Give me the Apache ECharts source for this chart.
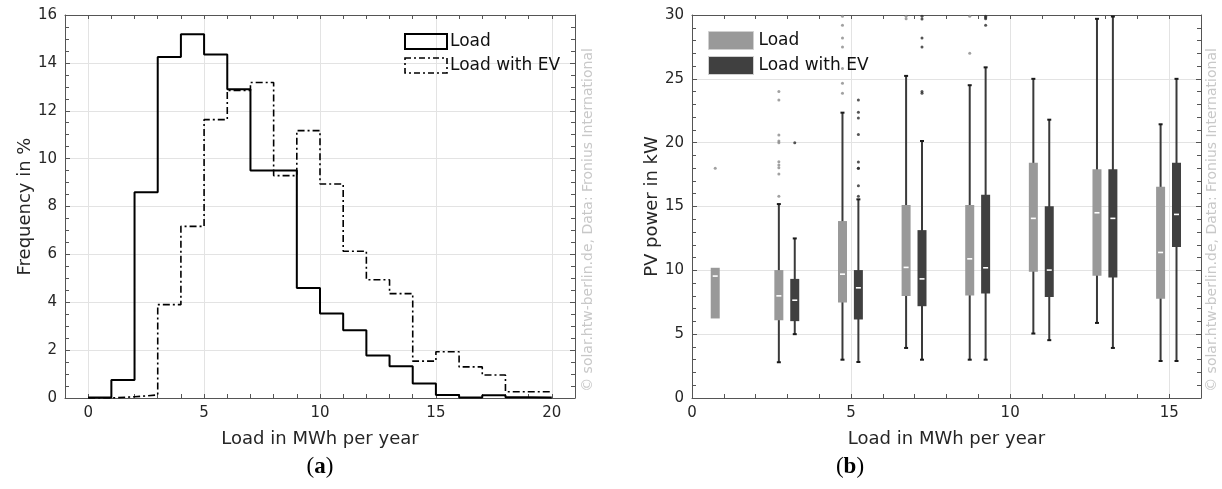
<!DOCTYPE html>
<html><head><meta charset="utf-8">
<script src="https://cdn.jsdelivr.net/npm/echarts@6/dist/echarts.min.js"></script>
<style>html,body{margin:0;padding:0;background:#fff}#c{width:1222px;height:489px}</style>
</head><body><div id="c"></div>
<script>
// ---------- (a) histogram data ----------
const binEdges = [0,1,2,3,4,5,6,7,8,9,10,11,12,13,14,15,16,17,18,19,20];
const loadFreq   = [0.02,0.75,8.6,14.25,15.2,14.35,12.9,9.5,9.5,4.6,3.53,2.83,1.78,1.33,0.61,0.13,0.02,0.12,0.03,0.02];
const loadEvFreq = [0,0.05,0.13,3.9,7.17,11.63,12.85,13.18,9.29,11.17,8.94,6.13,4.94,4.36,1.54,1.93,1.3,0.96,0.26,0.26];
const xTickLabelsA = [0,5,10,15,20];
// ---------- (b) boxplot data ----------
const groupCenters = [1,3,5,7,9,11,13,15];
// [low whisker, q1, median, q3, high whisker]
const loadBox = [[6.23,6.23,9.55,10.2,10.2],[2.8,6.09,8.0,10.02,15.19],[3.0,7.48,9.7,13.86,22.35],[3.92,7.98,10.23,15.11,25.23],[3.0,8.03,10.9,15.11,24.5],[5.05,9.88,14.07,18.43,25.0],[5.88,9.57,14.51,17.91,29.7],[2.9,7.77,11.4,16.55,21.44]];
const evBox = [null,[5.0,6.02,7.66,9.33,12.5],[2.82,6.15,8.63,10.02,15.56],[3.0,7.19,9.33,13.15,20.13],[3.0,8.19,10.2,15.92,25.9],[4.53,7.92,10.02,15.01,21.8],[3.92,9.44,14.07,17.91,29.88],[2.9,11.82,14.38,18.43,25.0]];
const loadOutliers = [[18.0],[24.0,23.35,20.6,20.13,20.0,18.5,18.25,18.04,17.55,15.8],[29.9,29.2,28.2,27.5,25.8,24.66,23.87],[29.9,29.7],[29.9,27.0],[],[],[]];
const evOutliers = [[],[20.0],[23.35,22.38,21.94,20.63,18.49,18.0,18.0,16.63,15.8],[29.9,29.68,28.2,27.5,24.0,23.87],[29.9,29.8,29.7,29.2],[],[],[]];
const xTickLabelsB = [0,5,10,15];

const FONT = 'DejaVu Sans';
const LOAD_OFF = -0.27, EV_OFF = 0.23;
const COL_LOAD = '#999999', COL_EV = '#404040';

function stepData(vals){
  const d = vals.map((v,i)=>[binEdges[i], v]);
  d.push([binEdges[binEdges.length-1], vals[vals.length-1]]);
  return d;
}

function boxSeries(name, stats, off, fill){
  const data = [];
  stats.forEach((s,i)=>{ if(s) data.push([groupCenters[i]+off].concat(s)); });
  return {
    type:'custom', name, xAxisIndex:3, yAxisIndex:2, z:3,
    itemStyle:{color:fill},
    encode:{x:0, y:[1,2,3,4,5]},
    data,
    renderItem(params, api){
      const x = api.value(0);
      const lo = api.coord([x, api.value(1)]);
      const q1 = api.coord([x, api.value(2)]);
      const md = api.coord([x, api.value(3)]);
      const q3 = api.coord([x, api.value(4)]);
      const hi = api.coord([x, api.value(5)]);
      const cx = lo[0], bw = 9;
      const ch = [];
      if (api.value(5) > api.value(4) || api.value(1) < api.value(2)) {
        ch.push({type:'line', shape:{x1:cx,y1:lo[1],x2:cx,y2:hi[1]}, style:{stroke:'#3a3a3a', lineWidth:2}});
        ch.push({type:'line', shape:{x1:cx-2,y1:lo[1],x2:cx+2,y2:lo[1]}, style:{stroke:'#1a1a1a', lineWidth:2}});
        ch.push({type:'line', shape:{x1:cx-2,y1:hi[1],x2:cx+2,y2:hi[1]}, style:{stroke:'#1a1a1a', lineWidth:2}});
      }
      ch.push({type:'rect', shape:{x:cx-bw/2, y:q3[1], width:bw, height:q1[1]-q3[1]}, style:{fill:fill}});
      ch.push({type:'line', shape:{x1:cx-2.5,y1:md[1],x2:cx+2.5,y2:md[1]}, style:{stroke:'#fff', lineWidth:1.6}});
      return {type:'group', children:ch};
    }
  };
}

function outlierData(list, off){
  const d = [];
  list.forEach((arr,i)=>arr.forEach(v=>d.push([groupCenters[i]+off, v])));
  return d;
}

const tickCol = '#555';
const labelStyle = {fontFamily:FONT, fontSize:15, color:'#262626'};
const nameStyle = {fontFamily:FONT, fontSize:18, color:'#262626'};

function mainX(grid, min, max, labels, name){
  return {type:'value', gridIndex:grid, position:'bottom', min, max, interval:1,
    axisLine:{show:true, onZero:false, lineStyle:{color:tickCol}},
    axisTick:{show:true, inside:true, length:4, lineStyle:{color:tickCol}},
    axisLabel:{show:true, margin:8, ...labelStyle, formatter:v=>labels.indexOf(v)>=0 ? String(v) : ''},
    splitLine:{show:false},
    name, nameLocation:'middle', nameGap:32, nameTextStyle:nameStyle};
}
function topX(grid, min, max){
  return {type:'value', gridIndex:grid, position:'top', min, max, interval:1,
    axisLine:{show:true, onZero:false, lineStyle:{color:tickCol}},
    axisTick:{show:true, inside:true, length:4, lineStyle:{color:tickCol}},
    axisLabel:{show:false}, splitLine:{show:false}};
}
function gridX(grid, min, max, vals){
  return {type:'value', gridIndex:grid, position:'bottom', min, max,
    axisLine:{show:false, onZero:false}, axisTick:{show:false, customValues:vals},
    axisLabel:{show:false, customValues:vals},
    splitLine:{show:true, lineStyle:{color:'#e3e3e3', width:1}}};
}
function mainY(grid, max, interval, split, name, nameGap){
  return {type:'value', gridIndex:grid, position:'left', min:0, max, interval,
    axisLine:{show:true, onZero:false, lineStyle:{color:tickCol}},
    axisTick:{show:true, inside:true, length:5, lineStyle:{color:tickCol}},
    minorTick:{show:true, splitNumber:split, length:4, lineStyle:{color:tickCol}},
    axisLabel:{show:true, margin:8, ...labelStyle},
    splitLine:{show:true, lineStyle:{color:'#e3e3e3', width:1}},
    name, nameLocation:'middle', nameGap, nameTextStyle:nameStyle};
}
function rightY(grid, max, interval, split){
  return {type:'value', gridIndex:grid, position:'right', min:0, max, interval,
    axisLine:{show:true, onZero:false, lineStyle:{color:tickCol}},
    axisTick:{show:true, inside:true, length:5, lineStyle:{color:tickCol}},
    minorTick:{show:true, splitNumber:split, length:4, lineStyle:{color:tickCol}},
    axisLabel:{show:false}, splitLine:{show:false}};
}

const chart = echarts.init(document.getElementById('c'), null, {renderer:'canvas'});
chart.setOption({
  animation:false,
  backgroundColor:'#fff',
  grid:[
    {left:65, top:15, width:510, height:383},
    {left:692, top:15, width:509, height:383}
  ],
  xAxis:[
    mainX(0, -1, 21, xTickLabelsA, 'Load in MWh per year'),
    topX(0, -1, 21),
    gridX(0, -1, 21, xTickLabelsA),
    mainX(1, 0, 16, xTickLabelsB, 'Load in MWh per year'),
    topX(1, 0, 16),
    gridX(1, 0, 16, xTickLabelsB)
  ],
  yAxis:[
    mainY(0, 16, 2, 4, 'Frequency in %', 31),
    rightY(0, 16, 2, 4),
    mainY(1, 30, 5, 5, 'PV power in kW', 31),
    rightY(1, 30, 5, 5)
  ],
  legend:[
    {left:404, top:33, orient:'vertical', itemWidth:42, itemHeight:15, itemGap:7, padding:0,
     selectedMode:false, textStyle:{fontFamily:FONT, fontSize:17, color:'#111', padding:[0,0,0,-2]},
     data:[
       {name:'Load', icon:'rect', itemStyle:{color:'rgba(255,255,255,0)', borderColor:'#000', borderWidth:2}},
       {name:'Load with EV', icon:'rect', itemStyle:{color:'rgba(255,255,255,0)', borderColor:'#000', borderWidth:1.6, borderType:[6,3,2,3]}}
     ]},
    {left:708, top:31, orient:'vertical', itemWidth:45, itemHeight:18, itemGap:6, padding:0,
     selectedMode:false, textStyle:{fontFamily:FONT, fontSize:17, color:'#111'},
     data:[
       {name:'Load', icon:'rect', itemStyle:{color:COL_LOAD, borderColor:'#d0d0d0', borderWidth:1}},
       {name:'Load with EV', icon:'rect', itemStyle:{color:COL_EV, borderColor:'#d0d0d0', borderWidth:1}}
     ]}
  ],
  series:[
    {type:'line', name:'Load', xAxisIndex:0, yAxisIndex:0, step:'end', symbol:'none', z:4,
     lineStyle:{color:'#000', width:2}, itemStyle:{color:'#000'}, data:stepData(loadFreq)},
    {type:'line', name:'Load with EV', xAxisIndex:0, yAxisIndex:0, step:'end', symbol:'none', z:3,
     lineStyle:{color:'#000', width:1.6, type:[7,3,2,3]}, itemStyle:{color:'#000'}, data:stepData(loadEvFreq)},
    boxSeries('Load', loadBox, LOAD_OFF, COL_LOAD),
    boxSeries('Load with EV', evBox, EV_OFF, COL_EV),
    {type:'scatter', xAxisIndex:3, yAxisIndex:2, symbolSize:3, clip:false, z:2,
     itemStyle:{color:'#8a8a8a'}, data:outlierData(loadOutliers, LOAD_OFF)},
    {type:'scatter', xAxisIndex:3, yAxisIndex:2, symbolSize:3, clip:false, z:2,
     itemStyle:{color:'#2a2a2a'}, data:outlierData(evOutliers, EV_OFF)}
  ],
  graphic:[
    {type:'text', x:588, y:220, rotation:Math.PI/2,
     style:{text:'© solar.htw-berlin.de, Data: Fronius International', fill:'#c8c8c8', font:'14px "DejaVu Sans"', align:'center', verticalAlign:'middle'}},
    {type:'text', x:1212, y:220, rotation:Math.PI/2,
     style:{text:'© solar.htw-berlin.de, Data: Fronius International', fill:'#c8c8c8', font:'14px "DejaVu Sans"', align:'center', verticalAlign:'middle'}},
    {type:'text', x:320, y:467,
     style:{text:'{p|(}{b|a}{p|)}', align:'center', verticalAlign:'middle',
       rich:{p:{font:'23px "Liberation Serif"', fill:'#000'}, b:{font:'bold 23px "Liberation Serif"', fill:'#000'}}}},
    {type:'text', x:850, y:467,
     style:{text:'{p|(}{b|b}{p|)}', align:'center', verticalAlign:'middle',
       rich:{p:{font:'23px "Liberation Serif"', fill:'#000'}, b:{font:'bold 23px "Liberation Serif"', fill:'#000'}}}}
  ]
});
</script>
</body></html>
